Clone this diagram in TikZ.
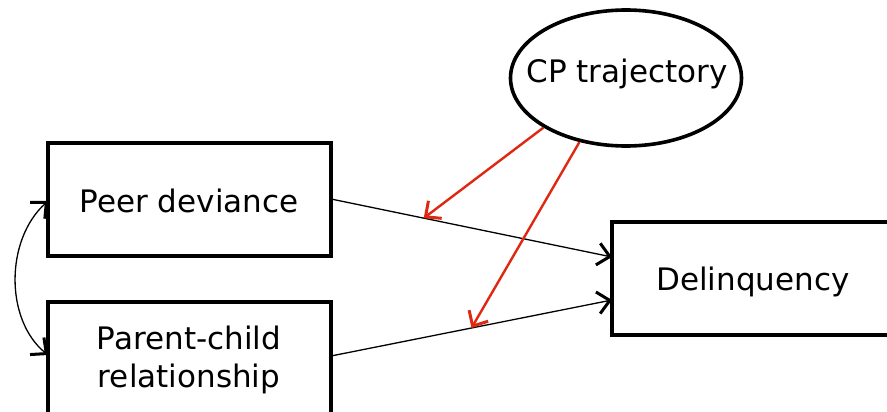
\documentclass[tikz,border=0pt]{standalone}
\usepackage{fontspec}
\setmainfont{DejaVu Sans}
\usetikzlibrary{shapes.geometric,arrows.meta}
\definecolor{cpred}{RGB}{222,40,18}
\tikzset{
  boxstyle/.style={draw,line width=3.6pt},
  lbl/.style={font=\fontsize{31}{38}\selectfont,align=center},
  barb/.style={Straight Barb[length=12pt,width=22pt,line width=3pt]},
  blackarr/.style={line width=1.3pt,-{Straight Barb[length=12pt,width=22pt,line width=3pt]}},
  redarr/.style={draw=cpred,line width=2.4pt,-{Straight Barb[length=12pt,width=22pt,line width=3pt]}},
}
\begin{document}
\begin{tikzpicture}[x=1pt,y=-1pt]
\useasboundingbox (0,0) rectangle (887,412);
\clip (0,0) rectangle (887,412);
\draw[boxstyle] (48,143) rectangle (331,256);
\draw[boxstyle] (48,302) rectangle (331,430);
\draw[boxstyle] (612,222) rectangle (900,335);
\node[lbl] (peer) at (189,201) {Peer deviance};
\node[lbl] (parent) at (189,360) {Parent-child\\relationship};
\node[lbl] (delinq) at (753,282) {Delinquency};
\node[draw,ellipse,line width=3.6pt,minimum width=231pt,minimum height=136pt,inner sep=0pt,lbl] (cp) at (626,78) {};
\node[lbl] (cptext) at (627,74) {CP trajectory};
\coordinate (peerR) at (331,199);
\coordinate (parR) at (331,356);
\coordinate (delA) at (612,257);
\coordinate (delB) at (612,300);
\coordinate (peerL) at (48,201);
\coordinate (parL) at (48,355);
\draw[blackarr] (peerR) -- (delA) coordinate[pos=0.33] (m1);
\draw[blackarr] (parR) -- (delB) coordinate[pos=0.50] (m2);
\draw[redarr] (cp.211) -- (m1);
\draw[redarr] (cp.234) -- (m2);
\draw[line width=1.3pt,{Straight Barb[length=12pt,width=22pt,line width=3pt]}-{Straight Barb[length=12pt,width=22pt,line width=3pt]}] (peerL) .. controls (5,240) and (5,320) .. (parL);
\end{tikzpicture}
\end{document}
